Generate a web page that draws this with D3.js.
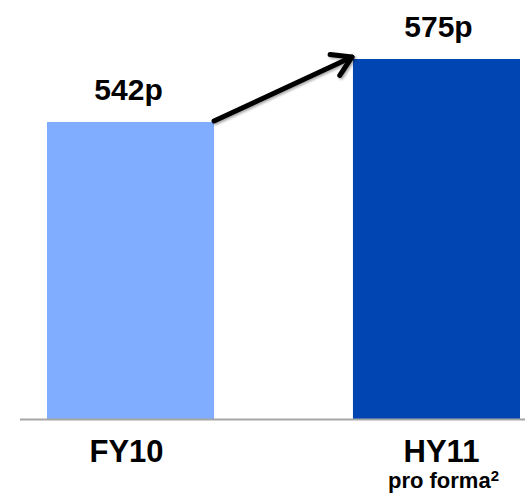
<!DOCTYPE html>
<html>
<head>
<meta charset="utf-8">
<script src="https://cdn.jsdelivr.net/npm/d3@7"></script>
<style>
  body { margin: 0; background: #fff; }
  svg { display: block; font-family: "Liberation Sans", Arial, sans-serif; }
</style>
</head>
<body>
<svg id="drawing_region"></svg>
<script>
const categories = ['FY10', 'HY11'];
const values = [542, 575];
const valueLabels = ['542p', '575p'];
const subLabels = ['', 'pro forma'];
const colors = ['#80adff', '#0045b2'];

const width = 525, height = 493;
const svg = d3.select('#drawing_region')
    .attr('width', width)
    .attr('height', height);

// arrow shadow
const defs = svg.append('defs');
const filter = defs.append('filter').attr('id', 'shadow')
    .attr('x', '-20%').attr('y', '-50%').attr('width', '140%').attr('height', '200%');
filter.append('feDropShadow')
    .attr('dx', 1.5).attr('dy', 1.5).attr('stdDeviation', 1.2)
    .attr('flood-color', '#000').attr('flood-opacity', 0.35);

const xscale = d3.scaleBand()
    .domain(categories)
    .range([47, 520])
    .paddingInner(0.454)
    .paddingOuter(0);

// axis does not start at zero in the original
const yFloor = 386.4;
const yscale = d3.scaleLinear()
    .domain([yFloor, 575])
    .range([419, 59]);

svg.selectAll('rect.bar')
    .data(values)
    .enter()
    .append('rect')
    .attr('class', 'bar')
    .attr('x', (d, i) => xscale(categories[i]))
    .attr('y', d => yscale(d))
    .attr('width', xscale.bandwidth())
    .attr('height', d => yscale(yFloor) - yscale(d))
    .attr('fill', (d, i) => colors[i]);

// baseline
svg.append('line')
    .attr('x1', 20).attr('x2', width)
    .attr('y1', 419.5).attr('y2', 419.5)
    .attr('stroke', '#a6a6a6')
    .attr('stroke-width', 2);

// value labels
svg.selectAll('text.value')
    .data(values)
    .enter()
    .append('text')
    .attr('class', 'value')
    .attr('x', (d, i) => xscale(categories[i]) + xscale.bandwidth() / 2 - 2 + i * 4)
    .attr('y', d => yscale(d) - 22)
    .attr('text-anchor', 'middle')
    .attr('font-size', '30px')
    .attr('font-weight', 'bold')
    .attr('fill', '#000')
    .text((d, i) => valueLabels[i]);

// category labels
svg.selectAll('text.cat')
    .data(categories)
    .enter()
    .append('text')
    .attr('class', 'cat')
    .attr('x', (d, i) => xscale(d) + xscale.bandwidth() / 2 - 4 + i * 9)
    .attr('y', 462)
    .attr('text-anchor', 'middle')
    .attr('font-size', '31px')
    .attr('font-weight', 'bold')
    .text(d => d);

const sub = svg.append('text')
    .attr('x', xscale('HY11') + xscale.bandwidth() / 2 + 7)
    .attr('y', 488)
    .attr('text-anchor', 'middle')
    .attr('font-size', '22px')
    .attr('font-weight', 'bold')
    .text(subLabels[1]);
sub.append('tspan')
    .attr('font-size', '15px')
    .attr('dy', -7)
    .text('2');

// arrow from top of FY10 to top of HY11
const x1 = xscale('FY10') + xscale.bandwidth(), y1 = yscale(values[0]) - 1;
const x2 = xscale('HY11') - 1, y2 = yscale(values[1]) - 2;
const ang = Math.atan2(y2 - y1, x2 - x1);
const headLen = 22, headAng = 0.55;
const arrow = svg.append('g').attr('filter', 'url(#shadow)');
arrow.append('line')
    .attr('x1', x1).attr('y1', y1)
    .attr('x2', x2).attr('y2', y2)
    .attr('stroke', '#000')
    .attr('stroke-width', 5)
    .attr('stroke-linecap', 'round');
arrow.append('polyline')
    .attr('points', [
        [x2 - headLen * Math.cos(ang - headAng), y2 - headLen * Math.sin(ang - headAng)],
        [x2, y2],
        [x2 - headLen * Math.cos(ang + headAng), y2 - headLen * Math.sin(ang + headAng)]
    ].map(p => p.join(',')).join(' '))
    .attr('fill', 'none')
    .attr('stroke', '#000')
    .attr('stroke-width', 5)
    .attr('stroke-linecap', 'round')
    .attr('stroke-linejoin', 'round');
</script>
</body>
</html>
